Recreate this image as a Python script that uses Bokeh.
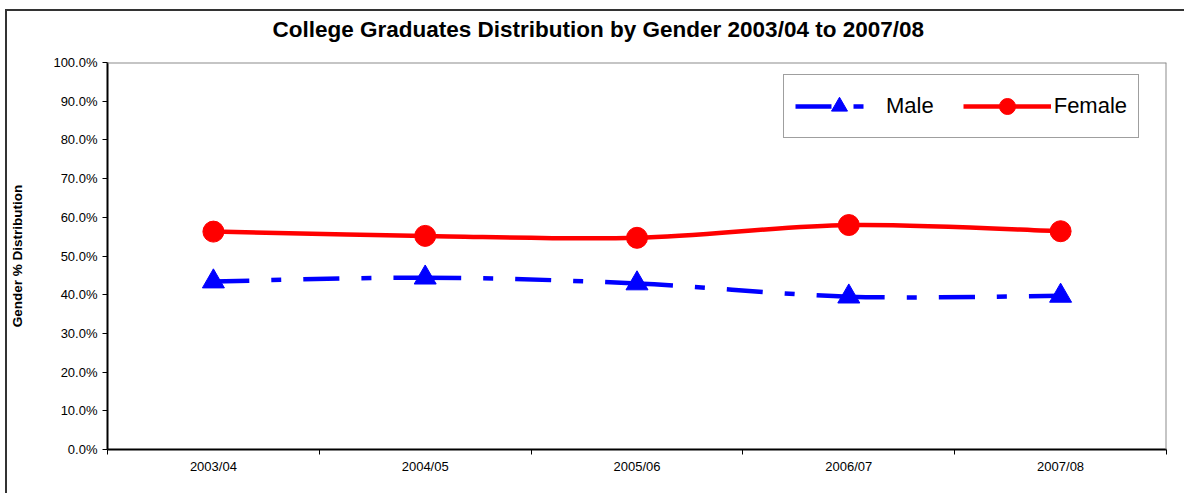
from bokeh.plotting import figure
from bokeh.models import (Range1d, FixedTicker, PrintfTickFormatter, Legend, LegendItem,
                          Span, Title, ColumnDataSource)
from bokeh.embed import file_html
from bokeh.resources import INLINE

categories = ["2003/04", "2004/05", "2005/06", "2006/07", "2007/08"]
male = [43.4, 44.4, 42.9, 39.5, 39.7]
female = [56.3, 55.2, 54.7, 58.0, 56.4]
y_ticks = [0, 10, 20, 30, 40, 50, 60, 70, 80, 90, 100]

FONT = "Liberation Sans"
xpos = [i + 0.5 for i in range(len(categories))]


def smooth(xs, ys, t=1.0 / 6):
    n = len(xs)
    d = dict(x0=[], y0=[], x1=[], y1=[], cx0=[], cy0=[], cx1=[], cy1=[])
    for i in range(n - 1):
        xp, yp = (xs[i - 1], ys[i - 1]) if i > 0 else (xs[i], ys[i])
        xn, yn = (xs[i + 2], ys[i + 2]) if i + 2 < n else (xs[i + 1], ys[i + 1])
        d["x0"].append(xs[i]); d["y0"].append(ys[i])
        d["x1"].append(xs[i + 1]); d["y1"].append(ys[i + 1])
        d["cx0"].append(xs[i] + (xs[i + 1] - xp) * t)
        d["cy0"].append(ys[i] + (ys[i + 1] - yp) * t)
        d["cx1"].append(xs[i + 1] - (xn - xs[i]) * t)
        d["cy1"].append(ys[i + 1] - (yn - ys[i]) * t)
    return ColumnDataSource(d)


p = figure(width=1179, height=484, x_range=Range1d(0, 5), y_range=Range1d(0, 100),
           output_backend="svg", toolbar_location=None,
           min_border_left=100, min_border_right=20, min_border_top=51, min_border_bottom=46)
p.title = None
p.styles = {"margin-left": "5px", "margin-top": "9px",
            "border-top": "2px solid #333333", "border-left": "2px solid #333333"}
p.background_fill_color = "white"
p.border_fill_color = "white"
p.outline_line_color = None
p.xgrid.visible = False
p.ygrid.visible = False

# spacer between title and plot area (closest to the frame), then the title
p.add_layout(Title(text=" ", text_font=FONT, text_font_size="15px", standoff=0), "above")
p.add_layout(Title(text="College Graduates Distribution by Gender 2003/04 to 2007/08",
                   text_font=FONT, text_font_size="22.5px", text_font_style="bold",
                   text_color="black", align="left", offset=165, standoff=4), "above")

# plot-area border (top/right) in grey
p.add_layout(Span(location=100, dimension="width", line_color="#8c8c8c", line_width=2))
p.add_layout(Span(location=5, dimension="height", line_color="#8c8c8c", line_width=2))

# axes
xa = p.xaxis[0]
xa.ticker = FixedTicker(ticks=xpos, minor_ticks=list(range(len(categories) + 1)))
xa.major_label_overrides = {xv: c for xv, c in zip(xpos, categories)}
xa.major_tick_out = 0
xa.major_tick_in = 0
xa.minor_tick_out = 5
xa.minor_tick_in = 0
xa.minor_tick_line_color = "black"
xa.axis_line_color = "black"
xa.axis_line_width = 2
xa.major_label_text_font = FONT
xa.major_label_text_font_size = "13px"
xa.major_label_text_color = "black"
xa.major_label_standoff = 4

ya = p.yaxis[0]
ya.ticker = FixedTicker(ticks=y_ticks, minor_ticks=[])
ya.formatter = PrintfTickFormatter(format="%.1f%%")
ya.major_tick_out = 5
ya.major_tick_in = 0
ya.major_tick_line_color = "black"
ya.axis_line_color = "black"
ya.axis_line_width = 2
ya.major_label_text_font = FONT
ya.major_label_text_font_size = "13px"
ya.major_label_text_color = "black"
ya.major_label_standoff = 5
ya.axis_label = "Gender % Distribution"
ya.axis_label_text_font = FONT
ya.axis_label_text_font_size = "13.5px"
ya.axis_label_text_font_style = "bold"
ya.axis_label_text_color = "black"
ya.axis_label_standoff = 25

# series
mline = p.bezier(x0="x0", y0="y0", x1="x1", y1="y1", cx0="cx0", cy0="cy0", cx1="cx1", cy1="cy1",
                 source=smooth(xpos, male), line_color="#0000ff", line_width=4.5,
                 line_dash="36 22 10 22")
mscat = p.scatter(xpos, male, marker="triangle", size=22, fill_color="#0000ff", line_color="#0000ff")
fline = p.bezier(x0="x0", y0="y0", x1="x1", y1="y1", cx0="cx0", cy0="cy0", cx1="cx1", cy1="cy1",
                 source=smooth(xpos, female), line_color="#ff0000", line_width=4.5)
fscat = p.scatter(xpos, female, marker="circle", size=21, fill_color="#ff0000", line_color="#ff0000")

legend = Legend(items=[LegendItem(label="Male", renderers=[mline, mscat]),
                       LegendItem(label="Female", renderers=[fline, fscat])],
                orientation="horizontal", location=(676, 311),
                glyph_width=88, glyph_height=40, label_height=40, label_standoff=3,
                spacing=29, padding=11, margin=0,
                label_text_font=FONT, label_text_font_size="22px", label_text_color="black",
                border_line_color="#404040", border_line_width=1,
                background_fill_color="white", background_fill_alpha=1.0)
p.add_layout(legend)

open("out.html", "w").write(file_html(p, INLINE))
